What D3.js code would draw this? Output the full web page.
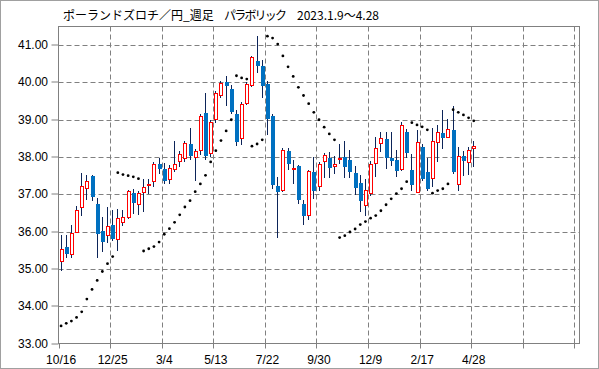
<!DOCTYPE html>
<html><head><meta charset="utf-8">
<script src="https://cdn.jsdelivr.net/npm/d3@7"></script>
<style>
html,body{margin:0;padding:0;background:#fff;}
svg{display:block;}
</style></head>
<body>
<svg id="chart" width="599" height="369"></svg>
<script>
const titleParts = ["ポーランドズロチ／円_週足", "パラボリック", "2023.1.9～4.28"];
const startDate = new Date(2023, 9, 16);
const nSlots = 101;
const tickLabels = ["10/16","12/25","3/4","5/13","7/22","9/30","12/9","2/17","4/28"];
const yTicks = [33,34,35,36,37,38,39,40,41];

const open = [35.18,35.60,35.37,35.97,36.64,37.15,37.48,36.73,36.01,35.89,
36.19,35.78,36.24,36.37,37.04,36.72,37.03,37.21,37.33,37.82,
37.67,37.39,37.66,37.86,37.95,38.36,37.98,38.17,39.19,38.08,
39.00,39.63,40.02,39.83,39.16,38.48,39.43,39.91,40.58,40.45,
39.96,39.09,37.21,37.09,38.16,37.65,37.75,36.73,36.42,37.61,
37.19,37.87,37.97,37.74,37.93,38.01,37.91,37.58,37.30,36.70,
37.02,37.82,38.36,38.49,37.97,37.91,37.66,38.68,37.64,37.03,
38.27,37.60,37.42,38.38,38.65,38.52,38.73,37.26,38.02,37.84,38.22];
const close = [35.54,35.40,35.97,36.57,37.22,37.36,36.93,35.93,35.72,36.16,
35.79,36.37,36.40,37.09,36.77,37.04,37.19,37.29,37.82,37.67,
37.35,37.71,37.82,38.08,38.38,38.02,38.17,39.10,38.02,38.94,
39.72,39.98,39.90,39.21,38.40,39.41,39.96,40.69,40.43,39.91,
39.01,37.24,37.06,38.19,37.81,37.70,36.84,36.43,37.63,37.09,
37.82,38.05,37.70,37.80,37.98,37.73,37.60,37.17,36.82,37.12,
37.82,38.25,38.52,37.97,37.89,37.62,38.85,38.10,37.24,38.41,
37.42,37.15,38.44,38.67,38.51,38.76,37.60,38.02,37.89,38.19,38.29];
const high = [35.90,35.90,36.19,36.68,37.58,37.51,37.53,36.91,36.39,36.66,
36.57,36.61,36.59,37.12,37.14,37.10,37.40,37.40,37.88,37.98,
37.85,37.78,38.44,38.15,38.43,38.78,38.22,39.15,39.72,39.00,
39.76,40.05,40.18,39.94,39.25,39.47,40.00,40.72,41.25,40.60,
40.03,39.16,37.46,38.25,38.24,37.91,37.78,36.84,37.66,38.00,
37.87,38.10,38.13,38.04,38.34,38.43,38.18,37.77,37.51,37.42,
37.89,38.55,38.67,38.67,38.67,38.18,38.94,38.74,38.09,38.73,
38.34,37.98,38.78,38.87,39.27,39.02,39.38,38.27,38.15,38.28,38.44];
const low = [34.94,35.28,35.28,35.95,36.43,36.84,36.83,35.30,35.45,35.69,
35.75,35.48,36.14,36.33,36.48,36.44,36.52,37.00,37.19,37.55,
37.28,37.27,37.60,37.73,37.87,37.91,37.35,38.05,37.91,38.00,
38.91,39.58,39.38,39.16,38.29,38.33,39.40,39.88,40.26,39.59,
38.58,37.15,35.84,37.05,37.66,37.28,36.75,36.17,36.30,36.88,
37.10,37.44,37.44,37.55,37.82,37.44,37.44,36.97,36.52,36.41,
36.96,37.46,38.13,37.69,37.77,37.46,37.63,37.98,37.10,37.03,
37.37,37.10,37.19,37.86,38.22,38.50,37.55,37.09,37.48,37.53,37.73];
const sar = [33.47,33.54,33.60,33.70,33.85,34.19,34.45,34.69,34.93,35.14,
35.33,37.58,37.53,37.50,37.47,37.42,35.48,35.54,35.60,35.72,
35.93,36.08,36.25,36.45,36.66,36.83,37.07,37.28,37.51,37.87,
38.17,38.44,38.70,39.00,40.18,40.12,40.09,38.29,38.35,38.46,
41.24,41.19,41.03,40.71,40.42,40.16,39.87,39.65,39.43,39.20,
39.00,38.80,38.62,38.46,35.84,35.89,35.99,36.07,36.19,36.27,
36.36,36.43,36.56,36.72,36.88,37.02,37.15,37.34,38.92,38.86,
38.81,38.73,37.03,37.10,37.15,37.28,39.27,39.20,39.13,39.05,38.97];

const weeks = d3.range(nSlots).map(i => d3.timeDay.offset(startDate, 7 * i));
const data = open.map((o, i) => ({date: weeks[i], o, c: close[i], h: high[i], l: low[i], s: sar[i]}));

const svg = d3.select("#chart");
const L = 58.5, R = 579.5, T = 26.5, B = 343.5;

const x = d3.scaleBand().domain(weeks).range([L, R]).padding(0);
const y = d3.scaleLinear().domain([33, 41.5]).range([B, T]);
const cx = d => x(d) + x.bandwidth() / 2;
const px = d => Math.round(cx(d) - 0.5);

// outer frame
svg.append("rect").attr("x", 0.5).attr("y", 0.5).attr("width", 598).attr("height", 368)
  .attr("fill", "#fff").attr("stroke", "#a0a0a0");

// title
const title = svg.append("text").attr("y", 19.5)
  .attr("font-family", "'Noto Sans CJK JP', sans-serif").attr("font-size", 12).attr("fill", "#000");
title.append("tspan").attr("x", 63).text(titleParts[0]);
title.append("tspan").attr("x", 224).attr("textLength", 63).text(titleParts[1]);
title.append("tspan").attr("x", 297).text(titleParts[2]);

const grid = svg.append("g");
grid.selectAll("line.h").data(yTicks.filter(v => v > 33)).join("line")
  .attr("x1", L).attr("x2", R).attr("y1", d => Math.round(y(d)) + 0.5).attr("y2", d => Math.round(y(d)) + 0.5)
  .attr("stroke", "#808080").attr("stroke-dasharray", "5,3");
const gridWeeks = weeks.filter((d, i) => i % 10 === 0);
grid.selectAll("line.v").data(gridWeeks.slice(1)).join("line")
  .attr("x1", d => Math.round(x(d)) + 0.5).attr("x2", d => Math.round(x(d)) + 0.5)
  .attr("y1", T).attr("y2", B)
  .attr("stroke", "#808080").attr("stroke-dasharray", "5,3");

svg.append("rect").attr("x", L).attr("y", T).attr("width", R - L).attr("height", B - T)
  .attr("fill", "none").attr("stroke", "#808080");

const yAxis = d3.axisLeft(y).tickValues(yTicks).tickSize(7).tickPadding(4).tickFormat(d3.format(".2f"));
const gy = svg.append("g").attr("transform", `translate(${L},0)`).call(yAxis);
gy.select(".domain").remove();
gy.selectAll(".tick").attr("transform", d => `translate(0,${Math.round(y(d))})`);
gy.selectAll(".tick line").attr("stroke", "#808080");
gy.selectAll(".tick text").attr("font-family", "'Liberation Sans', Arial, sans-serif").attr("font-size", 12).attr("fill", "#000").attr("x", -10.5);

const xAxis = d3.axisBottom(x).tickValues(gridWeeks).tickSize(5).tickFormat("");
const gx = svg.append("g").attr("transform", `translate(0,${B})`).call(xAxis);
gx.select(".domain").remove();
gx.selectAll(".tick").attr("transform", d => `translate(${Math.round(x(d)) + 0.5},0)`);
gx.selectAll(".tick line").attr("stroke", "#808080");
const labelWeeks = gridWeeks.slice(0, tickLabels.length);
svg.append("g").selectAll("text").data(labelWeeks).join("text")
  .attr("x", d => cx(d)).attr("y", B + 20).attr("text-anchor", "middle")
  .attr("font-family", "'Liberation Sans', Arial, sans-serif").attr("font-size", 12).attr("fill", "#000")
  .text((d, i) => tickLabels[i]);

// candles
const cg = svg.append("g");
cg.selectAll("line.w").data(data).join("line")
  .attr("x1", d => px(d.date) + 0.5).attr("x2", d => px(d.date) + 0.5)
  .attr("y1", d => Math.round(y(d.h))).attr("y2", d => Math.round(y(d.l)))
  .attr("stroke", "#0c2459").attr("stroke-width", 1);
const up = d => d.c >= d.o;
cg.selectAll("rect.b").data(data).join("rect")
  .attr("x", d => up(d) ? px(d.date) - 0.5 : px(d.date) - 1)
  .attr("width", d => up(d) ? 3 : 4)
  .attr("y", d => Math.round(y(Math.max(d.o, d.c))) + (up(d) ? 0.5 : 0))
  .attr("height", d => {
    const h = Math.round(y(Math.min(d.o, d.c))) - Math.round(y(Math.max(d.o, d.c)));
    return up(d) ? Math.max(1, h - 1) : Math.max(1, h);
  })
  .attr("fill", d => up(d) ? "#fff" : "#0070c0")
  .attr("stroke", d => up(d) ? "#ff0000" : "none")
  .attr("stroke-width", 1);

// parabolic SAR dots
svg.append("g").selectAll("circle").data(data).join("circle")
  .attr("cx", d => cx(d.date)).attr("cy", d => y(d.s)).attr("r", 1.4).attr("fill", "#000");
</script>
</body></html>
